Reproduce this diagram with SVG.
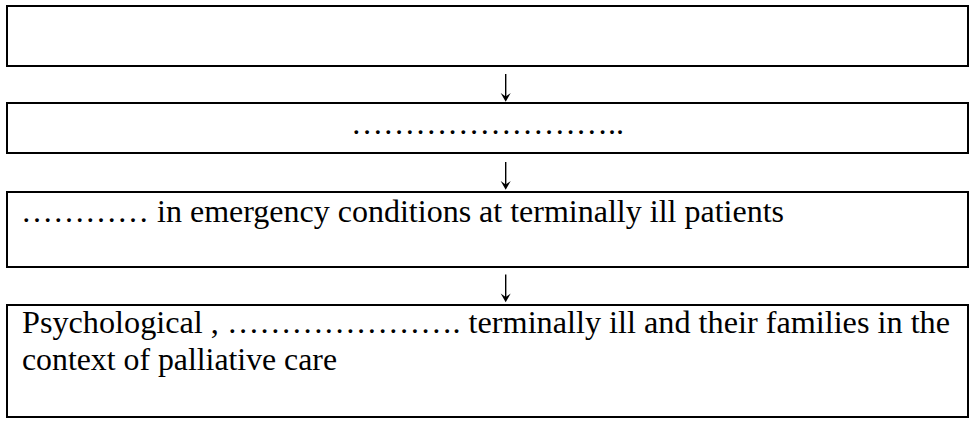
<svg xmlns="http://www.w3.org/2000/svg" width="969" height="421" viewBox="0 0 969 421">
<style>
.box{fill:#fff;stroke:#000;stroke-width:2}
.t{font-family:'Liberation Serif','Times New Roman',Times,serif;font-size:32px;fill:#000}
.shaft{stroke:#000;stroke-width:1.4;fill:none}
.head{fill:#000;stroke:none}
</style>
<rect width="969" height="421" fill="#fff"/>
<g id="node1"><rect class="box" x="7" y="6" width="961" height="60"/></g>
<g id="node2"><rect class="box" x="7" y="103" width="961" height="50"/>
<text class="t" x="351" y="133.5" textLength="273" lengthAdjust="spacingAndGlyphs">……………………..</text></g>
<g id="node3"><rect class="box" x="7" y="192" width="961" height="75"/>
<text class="t" x="21" y="222" textLength="763" lengthAdjust="spacingAndGlyphs">………… in emergency conditions at terminally ill patients</text></g>
<g id="node4"><rect class="box" x="7" y="305" width="961" height="112"/>
<text class="t" x="22" y="333" textLength="928" lengthAdjust="spacingAndGlyphs">Psychological , …………………. terminally ill and their families in the</text>
<text class="t" x="22" y="370" textLength="315" lengthAdjust="spacingAndGlyphs">context of palliative care</text></g>
<g id="connectors">
<line class="shaft" x1="505.7" y1="74" x2="505.7" y2="99"/>
<path class="head" d="M500.7,93 L505.7,101.7 L510.7,93 L505.7,96.5 Z"/>
<line class="shaft" x1="505.7" y1="162" x2="505.7" y2="187"/>
<path class="head" d="M500.7,181 L505.7,189.7 L510.7,181 L505.7,184.5 Z"/>
<line class="shaft" x1="505.7" y1="274.5" x2="505.7" y2="299.5"/>
<path class="head" d="M500.7,293.5 L505.7,302.2 L510.7,293.5 L505.7,297 Z"/>
</g>
</svg>
